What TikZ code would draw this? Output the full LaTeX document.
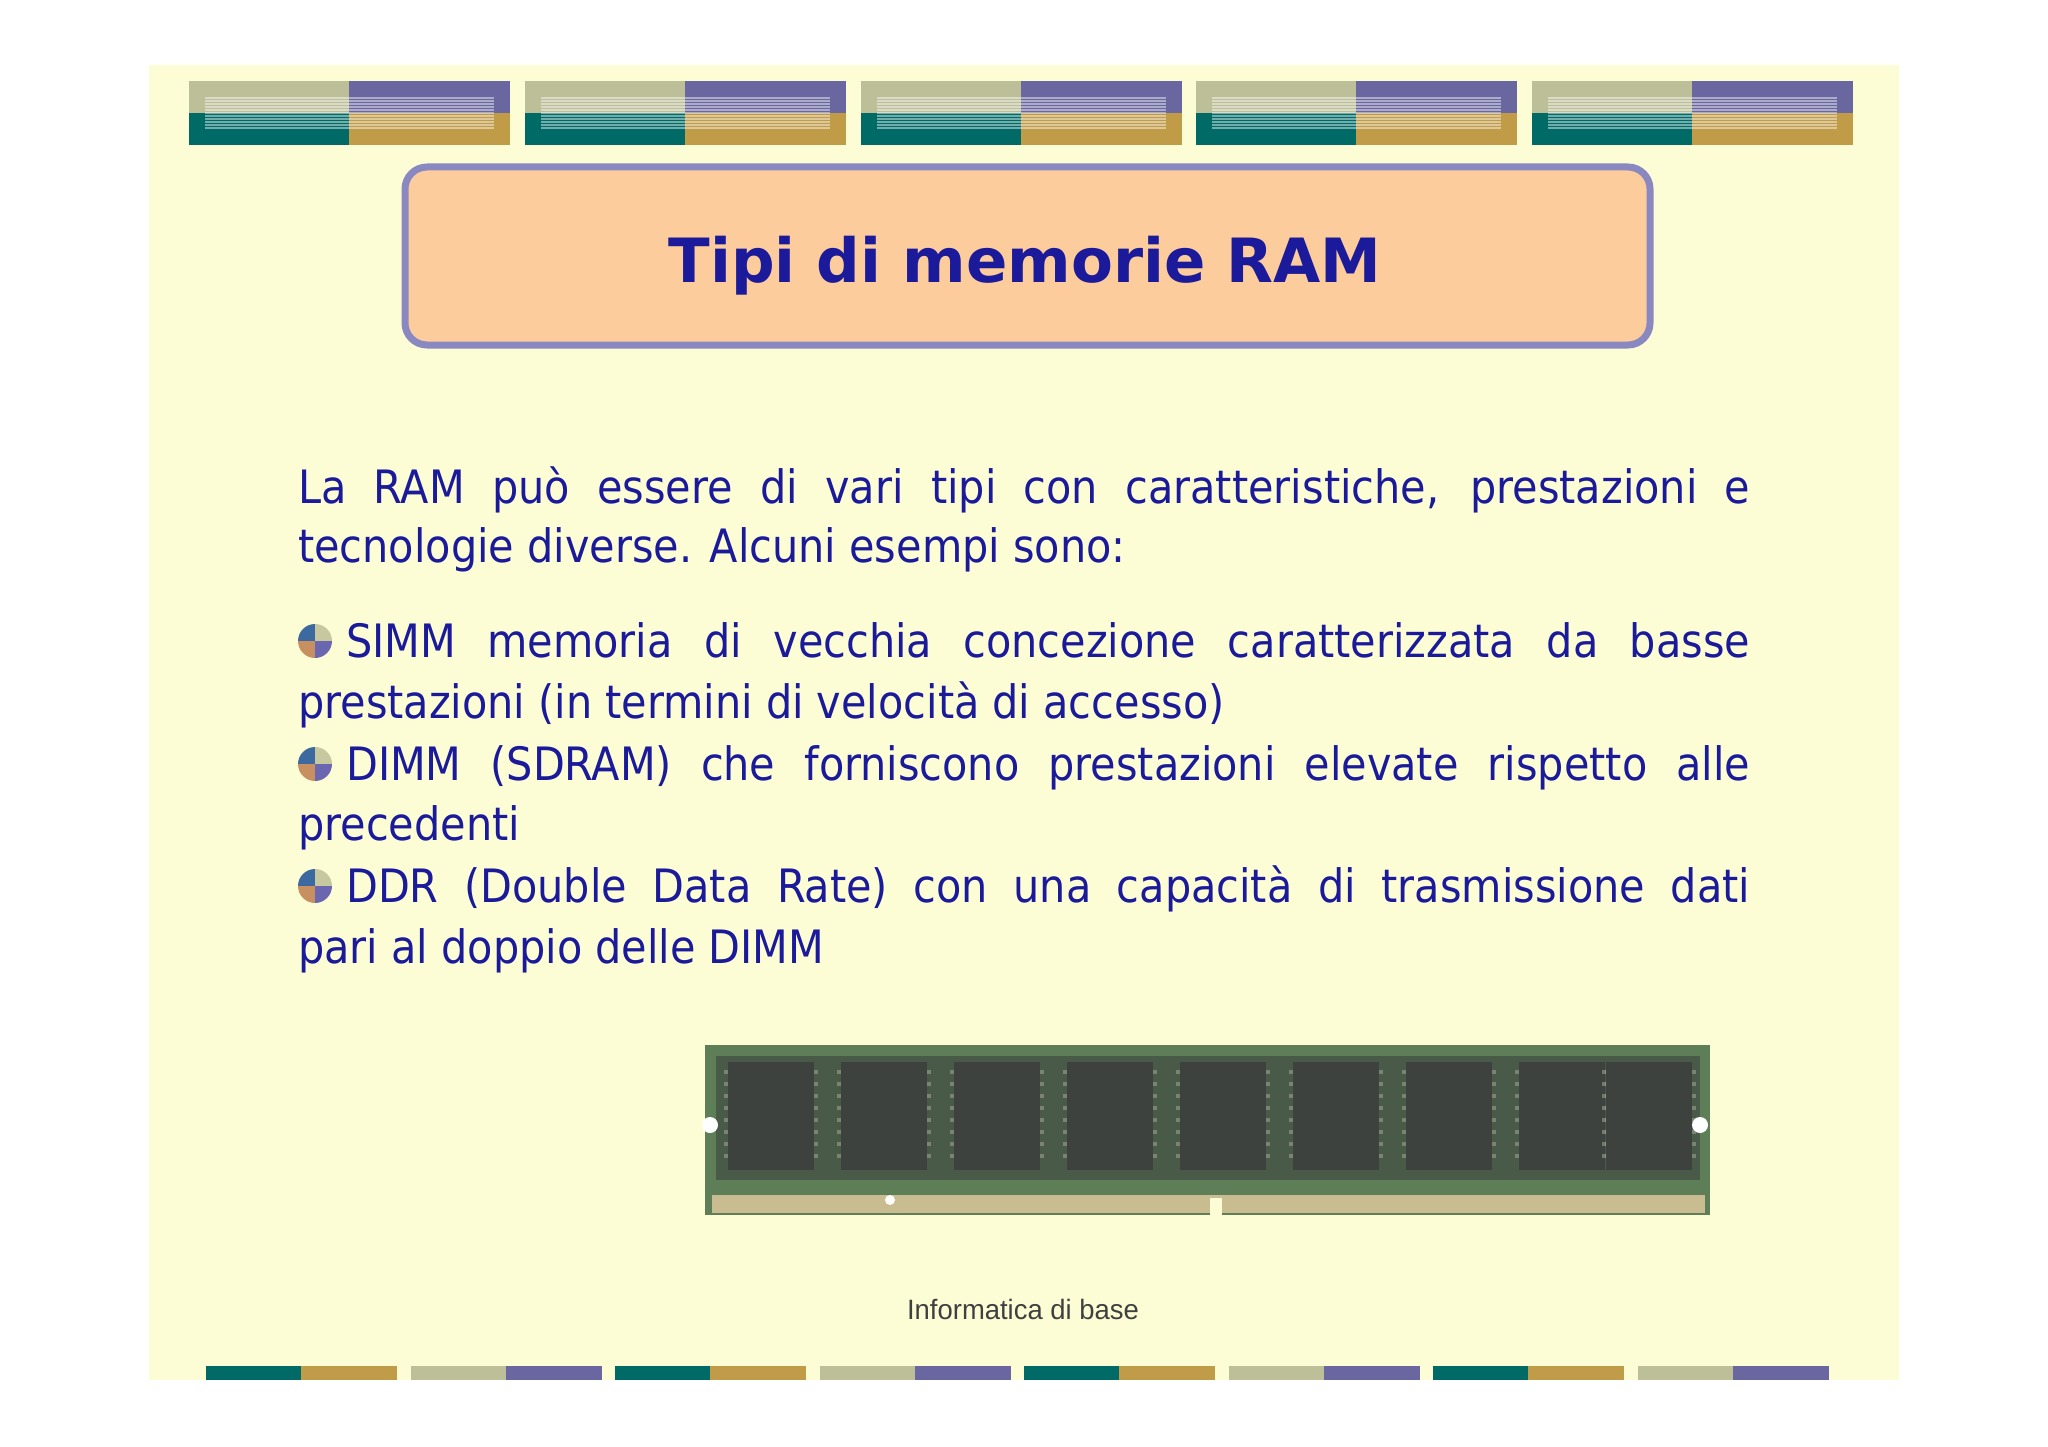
\documentclass[tikz,border=0pt]{standalone}
\usepackage{fontspec}
\setmainfont{DejaVu Sans}
\newfontfamily\bodyf{DejaVu Sans Condensed}
\newfontfamily\footf{Liberation Sans}
\definecolor{slidebg}{HTML}{FDFDD5}
\definecolor{khaki}{HTML}{BCBF98}
\definecolor{tealc}{HTML}{006A66}
\definecolor{purp}{HTML}{6A66A0}
\definecolor{goldc}{HTML}{C09C48}
\definecolor{navy}{HTML}{1A1A9A}
\definecolor{titlefill}{HTML}{FDCC9C}
\definecolor{titlebord}{HTML}{8A88C0}
\definecolor{pcb}{HTML}{5E7E58}
\definecolor{pcbdark}{HTML}{4A5A48}
\definecolor{chip}{HTML}{3E423E}
\definecolor{pinc}{HTML}{C8BC90}
\definecolor{leg}{HTML}{9AA090}
\definecolor{qa}{HTML}{3C6AA0}
\definecolor{qb}{HTML}{C8C8A0}
\definecolor{qc}{HTML}{C89060}
\definecolor{qd}{HTML}{6A66B0}
\definecolor{footc}{HTML}{404040}
\tikzset{
 bodyline/.style={anchor=base west,inner sep=0pt,text=navy,font=\bodyf\fontsize{46}{54}\selectfont},
}
\begin{document}
\begin{tikzpicture}[x=1pt,y=-1pt]
\useasboundingbox (0,0) rectangle (2048,1447);
\fill[white] (0,0) rectangle (2048,1447);
\fill[slidebg] (149,65) rectangle (1899,1380);
% header blocks
\foreach \x in {189,525,861,1196,1532}{
 \fill[khaki] (\x,81) rectangle (\x+160,113);
 \fill[tealc] (\x,113) rectangle (\x+160,145);
 \fill[purp] (\x+160,81) rectangle (\x+321,113);
 \fill[goldc] (\x+160,113) rectangle (\x+321,145);
 \foreach \yy in {97,100,...,128}{
  \fill[white,opacity=0.45] (\x+16,\yy) rectangle (\x+305,\yy+1.6);
 }
}
% title
\node[draw=titlebord,line width=7pt,fill=titlefill,rounded corners=22pt,
 minimum width=1245pt,minimum height=178pt,inner sep=0pt] (title) at (1027.5,256) {};
\node[text=navy,font=\bfseries\fontsize{61}{74}\selectfont] (tt) at (1025,266) {Tipi di memorie RAM};
% body
\node[bodyline] (l1) at (298,503) {\makebox[1452pt][s]{La RAM può essere di vari tipi con caratteristiche, prestazioni e}};
\node[bodyline] (l2) at (298,562) {tecnologie diverse. Alcuni esempi sono:};
\node[bodyline] (l3) at (346,657) {\makebox[1404pt][s]{SIMM memoria di vecchia concezione caratterizzata da basse}};
\node[bodyline] (l4) at (298,718) {prestazioni (in termini di velocità di accesso)};
\node[bodyline] (l5) at (346,780) {\makebox[1404pt][s]{DIMM (SDRAM) che forniscono prestazioni elevate rispetto alle}};
\node[bodyline] (l6) at (298,840) {precedenti};
\node[bodyline] (l7) at (346,902) {\makebox[1404pt][s]{DDR (Double Data Rate) con una capacità di trasmissione dati}};
\node[bodyline] (l8) at (298,963) {pari al doppio delle DIMM};
\foreach \cy in {641,764,886}{
 \begin{scope}
 \clip (315,\cy) circle (17);
 \fill[qa] (298,\cy-17) rectangle (315,\cy);
 \fill[qb] (315,\cy-17) rectangle (332,\cy);
 \fill[qc] (298,\cy) rectangle (315,\cy+17);
 \fill[qd] (315,\cy) rectangle (332,\cy+17);
 \end{scope}
}
% RAM module
\fill[pcb] (705,1045) rectangle (1710,1215);
\fill[pcbdark] (716,1056) rectangle (1700,1180);
\foreach \cx in {722,835,948,1061,1174,1287,1400,1513,1600}{
 \fill[chip] (\cx+6,1062) rectangle (\cx+92,1170);
 \foreach \py in {1070,1082,...,1160}{
  \fill[leg,opacity=0.6] (\cx+2,\py) rectangle (\cx+6,\py+4);
  \fill[leg,opacity=0.6] (\cx+92,\py) rectangle (\cx+96,\py+4);
 }
}
\fill[pinc] (712,1195) rectangle (1705,1213);
\fill[slidebg] (1210,1198) rectangle (1222,1215);
\fill[white] (890,1200) circle (5);
\fill[white] (1700,1125) circle (8);
\fill[white] (710,1125) circle (8);
% footer
\node[text=footc,font=\footf\fontsize{28}{32}\selectfont] (foot) at (1023,1309) {\scalebox{0.98}[1]{Informatica di base}};
\foreach \x [count=\i] in {206,411,615,820,1024,1229,1433,1638}{
 \ifodd\i
  \fill[tealc] (\x,1366) rectangle (\x+95,1380);
  \fill[goldc] (\x+95,1366) rectangle (\x+191,1380);
 \else
  \fill[khaki] (\x,1366) rectangle (\x+95,1380);
  \fill[purp] (\x+95,1366) rectangle (\x+191,1380);
 \fi
}
\end{tikzpicture}
\end{document}
